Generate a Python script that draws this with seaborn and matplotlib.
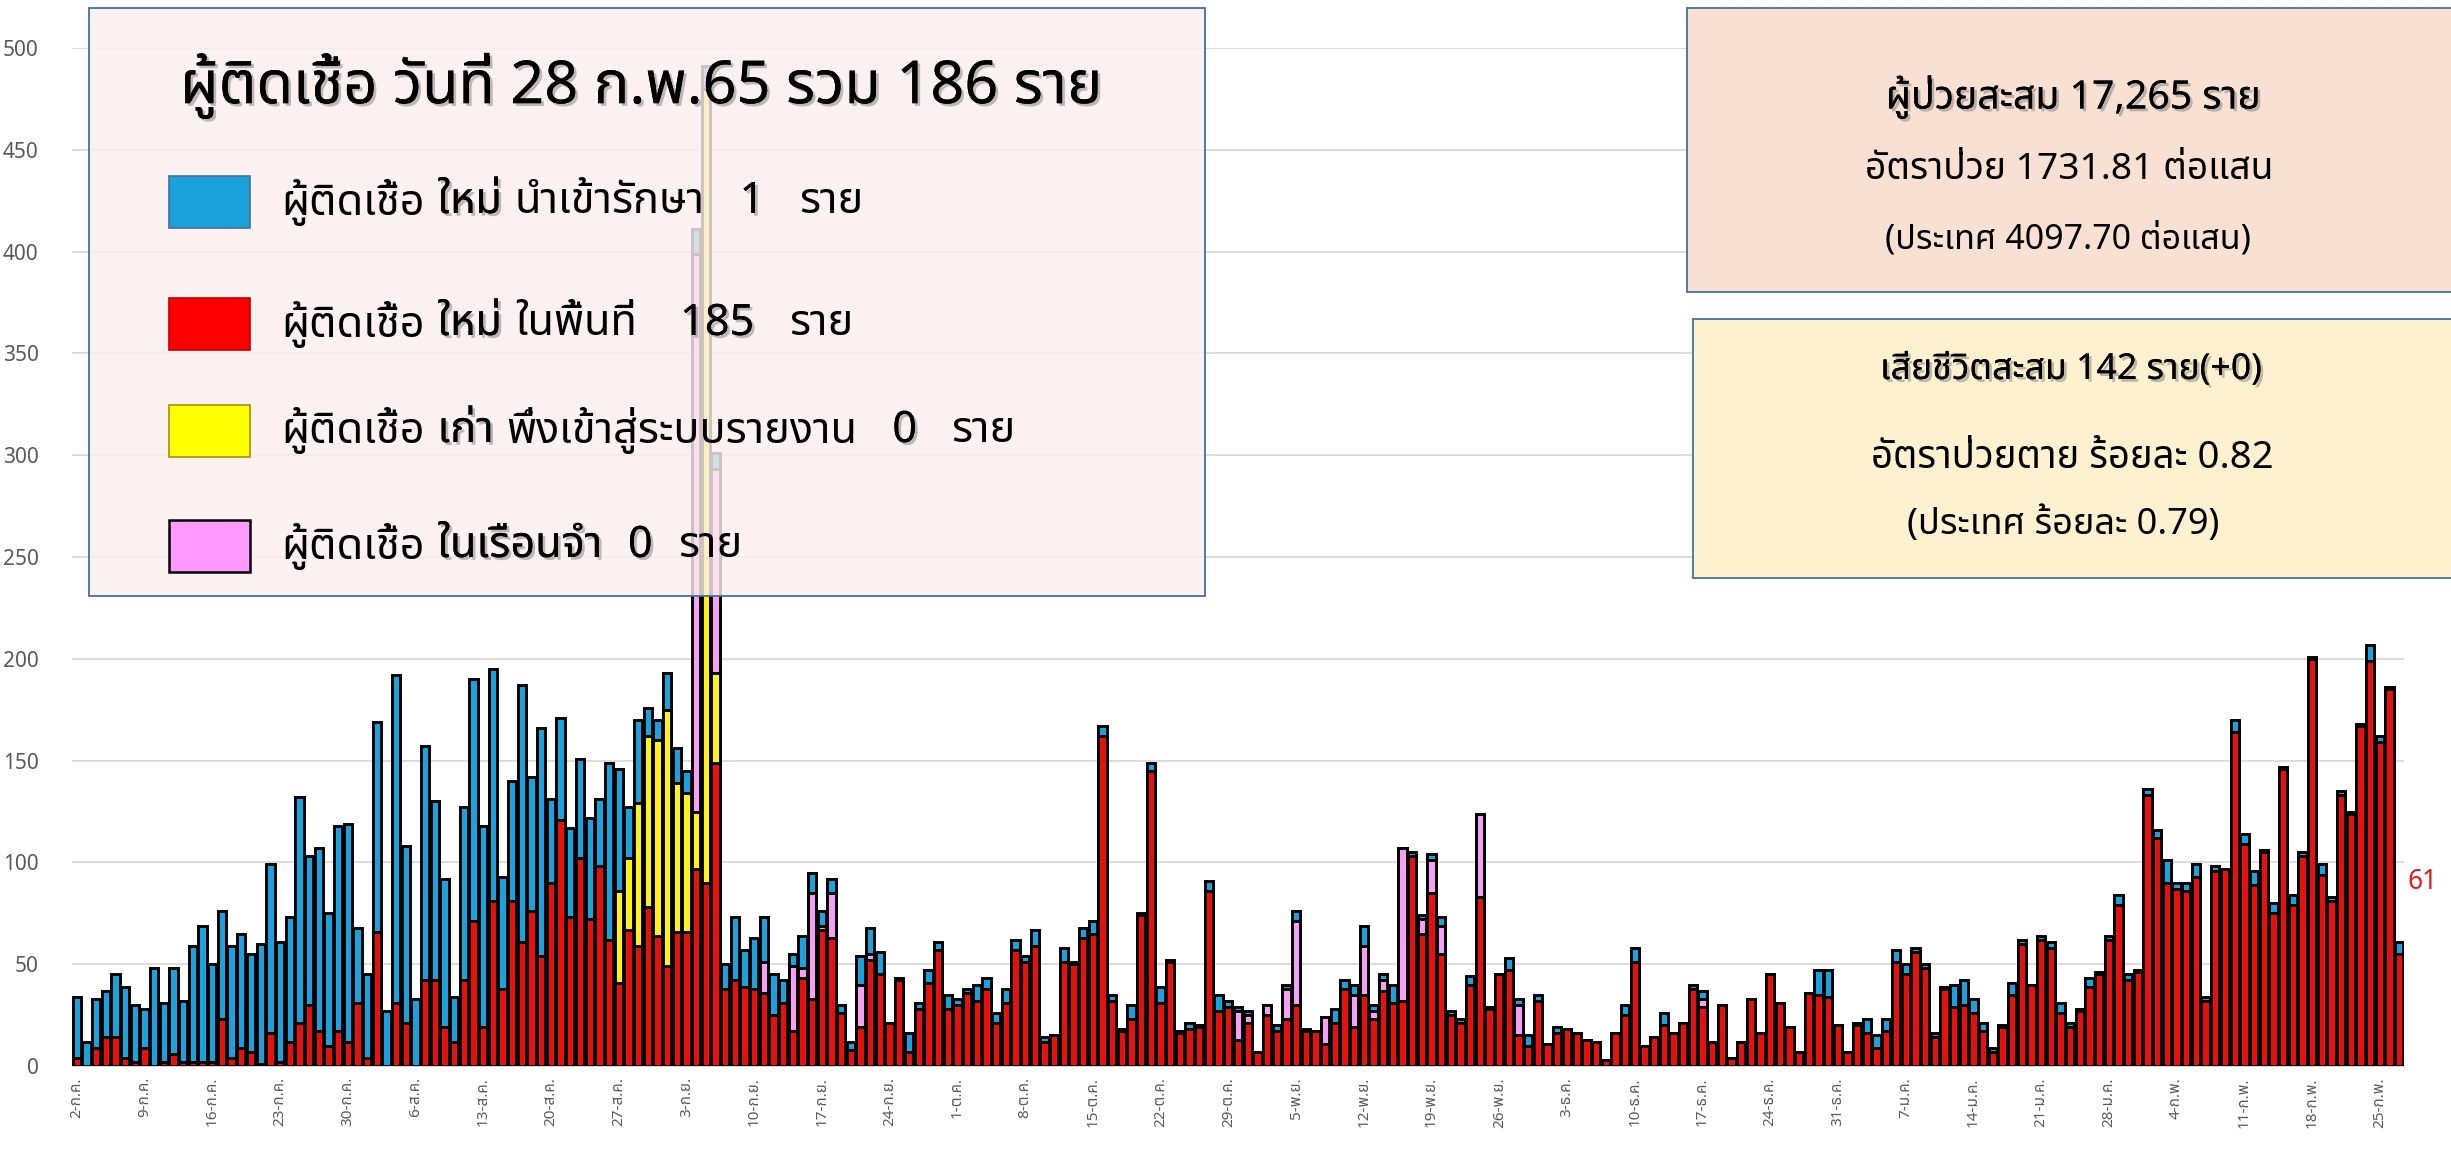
import numpy as np
import pandas as pd
import matplotlib
matplotlib.use("Agg")
import matplotlib.pyplot as plt
import matplotlib.patheffects as pe
from matplotlib import font_manager as fm
from matplotlib.ft2font import FT2Font
from matplotlib.patches import Rectangle
import seaborn as sns

# ==========================================
# DATA
# ==========================================
start_date = "2021-07-02"
n_days = 241
thai_months = {7: "ก.ค.", 8: "ส.ค.", 9: "ก.ย.", 10: "ต.ค.", 11: "พ.ย.", 12: "ธ.ค.", 1: "ม.ค.", 2: "ก.พ."}

# ผู้ติดเชื้อใหม่ในพื้นที่ (red)
local_new = [
    4, 0, 9, 14, 14, 4, 2, 9, 0, 2,
    6, 2, 2, 2, 2, 23, 4, 9, 7, 1,
    16, 2, 12, 21, 30, 17, 10, 17, 12, 31,
    4, 66, 0, 31, 21, 0, 42, 42, 19, 12,
    42, 71, 19, 81, 38, 81, 61, 76, 54, 90,
    121, 73, 102, 72, 98, 62, 41, 67, 59, 78,
    64, 49, 66, 66, 97, 90, 149, 38, 42, 39,
    38, 36, 25, 31, 17, 43, 33, 67, 63, 26,
    8, 19, 52, 45, 21, 42, 7, 28, 41, 57,
    28, 30, 36, 32, 38, 21, 31, 57, 51, 59,
    12, 15, 51, 50, 63, 65, 162, 32, 17, 23,
    74, 145, 31, 51, 16, 18, 19, 86, 27, 29,
    13, 21, 7, 25, 17, 23, 30, 17, 17, 11,
    21, 38, 19, 35, 23, 37, 31, 32, 103, 65,
    85, 55, 25, 21, 40, 83, 28, 45, 47, 15,
    10, 32, 11, 16, 18, 16, 13, 12, 3, 16,
    25, 51, 10, 14, 20, 16, 21, 38, 29, 12,
    30, 4, 12, 33, 16, 45, 31, 19, 7, 36,
    35, 34, 20, 7, 20, 16, 9, 17, 51, 45,
    56, 48, 14, 38, 29, 30, 26, 17, 7, 19,
    35, 60, 40, 62, 58, 26, 19, 27, 39, 45,
    62, 79, 42, 46, 133, 112, 90, 87, 86, 93,
    32, 96, 97, 164, 109, 89, 105, 75, 146, 79,
    103, 200, 94, 81, 133, 124, 167, 199, 159, 185,
    55,
]

# ผู้ติดเชื้อใหม่ นำเข้ารักษา (blue)
imported_new = [
    30, 12, 24, 23, 31, 35, 28, 19, 48, 29,
    42, 30, 57, 67, 48, 53, 55, 56, 48, 59,
    83, 59, 61, 111, 73, 90, 65, 101, 107, 37,
    41, 103, 27, 161, 87, 33, 115, 88, 73, 22,
    85, 119, 99, 114, 55, 59, 126, 66, 112, 41,
    50, 44, 49, 50, 33, 87, 60, 25, 41, 14,
    10, 18, 17, 11, 12, 11, 8, 12, 31, 18,
    25, 22, 20, 11, 6, 16, 10, 7, 7, 4,
    4, 14, 13, 11, 0, 1, 9, 3, 6, 4,
    7, 3, 2, 8, 5, 5, 7, 5, 3, 8,
    2, 0, 7, 1, 5, 6, 5, 3, 1, 7,
    1, 4, 8, 1, 1, 3, 1, 5, 8, 3,
    2, 2, 0, 0, 3, 2, 5, 1, 0, 0,
    7, 4, 5, 10, 3, 3, 9, 0, 2, 2,
    3, 4, 2, 2, 4, 0, 1, 0, 6, 3,
    5, 3, 0, 3, 0, 0, 0, 0, 0, 0,
    5, 7, 0, 0, 6, 0, 0, 2, 4, 0,
    0, 0, 0, 0, 0, 0, 0, 0, 0, 0,
    12, 13, 0, 0, 1, 7, 6, 6, 6, 5,
    2, 2, 2, 1, 11, 12, 7, 4, 2, 1,
    6, 2, 0, 2, 3, 5, 2, 1, 4, 1,
    2, 5, 3, 1, 3, 4, 11, 3, 4, 6,
    2, 2, 0, 6, 5, 7, 1, 5, 1, 5,
    2, 1, 5, 2, 2, 1, 1, 8, 3, 1,
    6,
]

# ผู้ติดเชื้อเก่า พึ่งเข้าสู่ระบบรายงาน (yellow), only the days that have any
old_cases = {
    "27-ส.ค.": 45, "28-ส.ค.": 35, "29-ส.ค.": 70, "30-ส.ค.": 84, "31-ส.ค.": 96,
    "1-ก.ย.": 126, "2-ก.ย.": 73, "3-ก.ย.": 68, "4-ก.ย.": 28, "5-ก.ย.": 390,
    "6-ก.ย.": 44,
}

# ผู้ติดเชื้อในเรือนจำ (pink), only the days that have any
prison_cases = {
    "4-ก.ย.": 274, "6-ก.ย.": 100, "11-ก.ย.": 15, "14-ก.ย.": 32, "15-ก.ย.": 5,
    "16-ก.ย.": 52, "17-ก.ย.": 2, "18-ก.ย.": 22, "21-ก.ย.": 21, "22-ก.ย.": 3,
    "30-ต.ค.": 14, "31-ต.ค.": 4, "2-พ.ย.": 5, "4-พ.ย.": 15, "5-พ.ย.": 41,
    "8-พ.ย.": 13, "11-พ.ย.": 16, "12-พ.ย.": 24, "13-พ.ย.": 4, "14-พ.ย.": 5,
    "16-พ.ย.": 75, "18-พ.ย.": 7, "19-พ.ย.": 16, "20-พ.ย.": 14, "24-พ.ย.": 41,
    "28-พ.ย.": 15, "17-ธ.ค.": 4,
}

# today's summary
report_day = "28 ก.พ.65"
today_import = 1
today_local = 185
today_old = 0
today_prison = 0
cum_cases = "17,265"
cum_rate = "1731.81"
country_rate = "4097.70"
cum_deaths = 142
new_deaths = 0
cfr = "0.82"
country_cfr = "0.79"

# ==========================================
# FONT (need a font with Thai glyphs)
# ==========================================
def find_thai_font():
    prefer = ["Tahoma", "Leelawadee UI", "Noto Sans Thai", "Noto Sans Thai UI", "Noto Looped Thai",
              "Sarabun", "TH Sarabun New", "Garuda", "Loma", "Waree", "Umpush", "Kinnari",
              "Norasi", "Laksaman", "FreeSans", "Arial Unicode MS"]
    names = {f.name for f in fm.fontManager.ttflist}
    for p in prefer:
        if p in names:
            return p
    for f in fm.fontManager.ttflist:
        try:
            if 0x0E01 in FT2Font(f.fname).get_charmap():
                return f.name
        except Exception:
            pass
    return "DejaVu Sans"

sns.set_style("whitegrid")
THAI = find_thai_font()
plt.rcParams["font.family"] = [THAI, "DejaVu Sans"]

# ==========================================
# TABLE
# ==========================================
dates = pd.date_range(start_date, periods=n_days, freq="D")
labels = [f"{d.day}-{thai_months[d.month]}" for d in dates]
df = pd.DataFrame({"day": np.arange(n_days), "label": labels,
                   "red": local_new, "blue": imported_new})
df["yellow"] = df["label"].map(old_cases).fillna(0)
df["pink"] = df["label"].map(prison_cases).fillna(0)
stack = df[["red", "yellow", "pink", "blue"]].cumsum(axis=1)
total = stack["blue"]

C_RED = "#E8100C"
C_BLUE = "#1BA2DD"
C_YEL = "#FFF21A"
C_PINK = "#F5A0F2"

W, H = 2451, 1168
fig = plt.figure(figsize=(W / 100, H / 100), dpi=100)
ax = fig.add_axes([72 / W, 1 - 1066 / H, 2332 / W, (1066 - 48) / H])

# stacked bars: draw cumulative layers from the top segment down
for col, color in [("blue", C_BLUE), ("pink", C_PINK), ("yellow", C_YEL), ("red", C_RED)]:
    sns.barplot(x=df["day"], y=stack[col], color=color, saturation=1, width=0.86,
                edgecolor="black", linewidth=2.1, errorbar=None, ax=ax)

ax.set_xlim(-0.5, n_days - 0.5)
ax.set_ylim(0, 500)
ax.set_yticks(range(0, 501, 50))
ax.set_xlabel("")
ax.set_ylabel("")
ax.grid(axis="y", color="#D9D9D9", linewidth=1.3)
ax.grid(axis="x", visible=False)
ax.set_axisbelow(True)
for s in ["left", "right", "top"]:
    ax.spines[s].set_visible(False)
ax.spines["bottom"].set_color("#D9D9D9")

tick_pos = list(range(0, n_days, 7))
ax.set_xticks(tick_pos)
ax.set_xticklabels([labels[i] for i in tick_pos], rotation=90, fontsize=11, color="#595959")
ax.set_xticks([i - 0.5 for i in tick_pos], minor=True)
ax.tick_params(axis="x", which="major", length=0, pad=8)
ax.tick_params(axis="x", which="minor", length=5, color="#BFBFBF", width=1)
ax.tick_params(axis="y", length=0, pad=24, labelsize=15, labelcolor="#595959")

ax.annotate(f"{int(total.iloc[-1])}", xy=(n_days - 1, total.iloc[-1]), xytext=(6, 43),
            textcoords="offset points", ha="left", va="center", color="#E31A1C",
            fontsize=19, fontweight="bold")

# ==========================================
# BOXES AND TEXT
# ==========================================
renderer = fig.canvas.get_renderer()
shadow = [pe.withSimplePatchShadow(offset=(2, -2), shadow_rgbFace="#7F7F7F", alpha=0.5), pe.Normal()]

def box(x0, y0, x1, y1, face):
    r = Rectangle((x0 / W, 1 - y1 / H), (x1 - x0) / W, (y1 - y0) / H, transform=fig.transFigure,
                  facecolor=face, edgecolor="#41719C", linewidth=1.3, zorder=5)
    fig.add_artist(r)

def fit_text(xc, yc, s, width, bold=False, eff=None):
    t = fig.text(xc / W, 1 - yc / H, s, ha="center", va="center", fontsize=20,
                 fontweight="bold" if bold else "normal", color="black", zorder=6)
    w = t.get_window_extent(renderer).width
    t.set_fontsize(20 * width / w)
    if eff:
        t.set_path_effects(eff)
    return t

def draw_row(x0, yc, parts, size):
    arts = []
    cur = x0
    for s, bold, gap in parts:
        t = fig.text(cur / W, 1 - yc / H, s, ha="left", va="center", fontsize=size,
                     fontweight="bold" if bold else "normal", color="black", zorder=6)
        if bold:
            t.set_path_effects(shadow)
        cur += t.get_window_extent(renderer).width + gap * size * 100 / 72
        arts.append(t)
    return cur - x0, arts

# legend box on the left (semi transparent, bars show through)
box(89, 8, 1205, 596, (0.99, 0.935, 0.935, 0.82))
fit_text(641, 86, f"ผู้ติดเชื้อ วันที่ {report_day} รวม {today_import + today_local + today_old + today_prison} ราย",
         922, bold=True, eff=shadow)

rows = [
    (202, C_BLUE, "#41719C", [("ผู้ติดเชื้อ", False, 0.3), ("ใหม่", True, 0.3), ("นำเข้ารักษา", False, 0.8),
                              (str(today_import), True, 0.8), ("ราย", False, 0)]),
    (324, "#FF0000", "#C00000", [("ผู้ติดเชื้อ", False, 0.3), ("ใหม่", True, 0.3), ("ในพื้นที่", False, 1.0),
                                 (str(today_local), True, 0.8), ("ราย", False, 0)]),
    (431, "#FFFF00", "#A39400", [("ผู้ติดเชื้อ", False, 0.3), ("เก่า", True, 0.3), ("พึ่งเข้าสู่ระบบรายงาน", False, 0.8),
                                 (str(today_old), True, 0.8), ("ราย", False, 0)]),
    (546, "#FF99FF", "black", [("ผู้ติดเชื้อ", False, 0.3), ("ในเรือนจำ", True, 0.6),
                               (str(today_prison), True, 0.6), ("ราย", False, 0)]),
]
w3, arts = draw_row(281, rows[2][0], rows[2][3], 20)
for a in arts:
    a.remove()
row_size = 20 * 735 / w3
for yc, face, edge, parts in rows:
    sq = Rectangle((169 / W, 1 - (yc + 26) / H), 81 / W, 52 / H, transform=fig.transFigure,
                   facecolor=face, edgecolor=edge, linewidth=1.8 if edge == "black" else 1.2, zorder=6)
    fig.add_artist(sq)
    draw_row(281, yc, parts, row_size)

# summary boxes on the right
box(1687, 8, 2470, 292, "#F8E0D3")
fit_text(2073, 97, f"ผู้ป่วยสะสม {cum_cases} ราย", 375, bold=True, eff=shadow)
fit_text(2069, 170, f"อัตราป่วย {cum_rate} ต่อแสน", 408)
fit_text(2068, 239, f"(ประเทศ {country_rate} ต่อแสน)", 366)

box(1693, 319, 2470, 578, "#FDF1CF")
fit_text(2071, 370, f"เสียชีวิตสะสม {cum_deaths} ราย(+{new_deaths})", 382, bold=True, eff=shadow)
fit_text(2072, 458, f"อัตราป่วยตาย ร้อยละ {cfr}", 403)
fit_text(2063, 525, f"(ประเทศ ร้อยละ {country_cfr})", 313)

fig.savefig("out.png", dpi=100)
